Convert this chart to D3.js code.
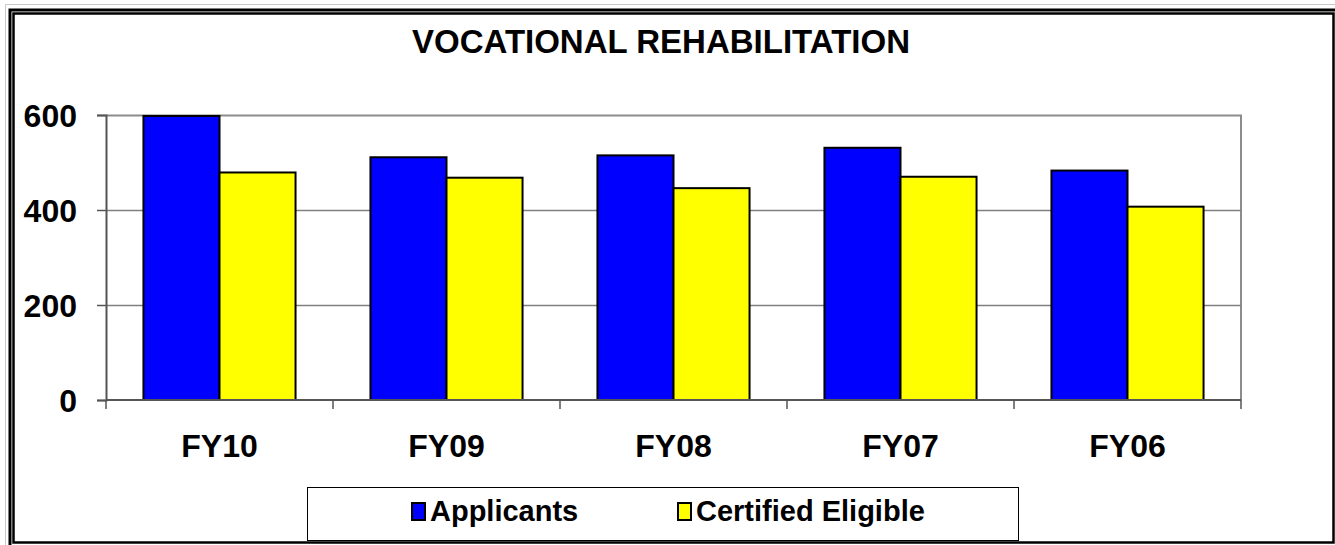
<!DOCTYPE html>
<html>
<head>
<meta charset="utf-8">
<script src="https://cdn.jsdelivr.net/npm/d3@7"></script>
<style>
  body { margin: 0; background: #fff; overflow: hidden; }
  text { font-family: "Liberation Sans", Arial, sans-serif; font-weight: bold; fill: #000; }
</style>
</head>
<body>
<div id="viz1"></div>
<script>
// data
const years = ["FY10", "FY09", "FY08", "FY07", "FY06"];
const applicants = [598, 511, 515, 531, 483];
const certified = [479, 468, 446, 470, 407];
const seriesKeys = ["Applicants", "Certified Eligible"];
const yTicks = [0, 200, 400, 600];

const rows = years.map((y, i) => ({ year: y, Applicants: applicants[i], "Certified Eligible": certified[i] }));

const
    width = 1335, height = 545,
    margin = { top: 115, right: 94, bottom: 145, left: 106 },
    innerWidth = width - margin.left - margin.right,
    innerHeight = height - margin.top - margin.bottom;

// scales
const xScale = d3
    .scaleBand()
    .domain(years)
    .range([margin.left, margin.left + innerWidth])
    .paddingInner(0.33)
    .paddingOuter(0.165);

const xSub = d3
    .scaleBand()
    .domain(seriesKeys)
    .range([0, xScale.bandwidth()]);

const yScale = d3
    .scaleLinear()
    .domain([0, 600])
    .range([margin.top + innerHeight, margin.top]);

const colors = d3
    .scaleOrdinal()
    .domain(seriesKeys)
    .range(["#0000ff", "#ffff00"]);

const svg = d3
    .select("#viz1")
    .append("svg")
    .attr("width", width)
    .attr("height", height)
    .style("display", "block");

// outer frame: double line on left/top, single line right/bottom
svg.append("path")
    .attr("d", "M5.5,545V4.5H1335")
    .attr("fill", "none").attr("stroke", "#c8c8c8").attr("stroke-width", 1);
svg.append("path")
    .attr("d", "M10,545V10H1335")
    .attr("fill", "none").attr("stroke", "#000").attr("stroke-width", 3);
svg.append("path")
    .attr("d", "M13.5,542.5V13.5H1333.5V542.5Z")
    .attr("fill", "none").attr("stroke", "#000").attr("stroke-width", 2.5);

// title
svg.append("text")
    .attr("x", 661)
    .attr("y", 53)
    .attr("text-anchor", "middle")
    .style("font-size", "33px")
    .text("VOCATIONAL REHABILITATION");

const x0 = margin.left, x1 = margin.left + innerWidth;
const yBase = yScale(0), yTop = yScale(600);

// plot border (top + right)
svg.append("path")
    .attr("d", `M${x0},${yTop + 0.5}H${x1}V${yBase}`)
    .attr("fill", "none")
    .attr("stroke", "#8c8c8c")
    .attr("stroke-width", 2);

// gridlines
svg.append("g")
    .selectAll("line")
    .data(yTicks.filter(d => d > 0 && d < 600))
    .enter()
    .append("line")
    .attr("x1", x0)
    .attr("x2", x1)
    .attr("y1", d => Math.round(yScale(d)) + 0.5)
    .attr("y2", d => Math.round(yScale(d)) + 0.5)
    .attr("stroke", "#808080")
    .attr("stroke-width", 1.5);

// bars
const g = svg
    .selectAll("g.year")
    .data(rows)
    .enter()
    .append("g")
    .attr("class", "year")
    .attr("transform", d => `translate(${xScale(d.year)},0)`);

g.selectAll("rect")
    .data(d => seriesKeys.map(k => ({ key: k, value: d[k] })))
    .enter()
    .append("rect")
    .attr("x", d => xSub(d.key))
    .attr("y", d => yScale(d.value))
    .attr("width", xSub.bandwidth())
    .attr("height", d => yBase - yScale(d.value))
    .attr("fill", d => colors(d.key))
    .attr("stroke", "#000")
    .attr("stroke-width", 2);

// y axis (lines only, labels drawn below)
const yAxis = d3.axisLeft(yScale)
    .tickValues(yTicks)
    .tickSize(9)
    .tickFormat("");

const yG = svg.append("g").attr("transform", `translate(${x0},0)`).call(yAxis);
yG.select(".domain").attr("stroke", "#555").attr("stroke-width", 2);
yG.selectAll(".tick line").attr("stroke", "#555").attr("stroke-width", 1.5);

svg.append("g")
    .selectAll("text")
    .data(yTicks)
    .enter()
    .append("text")
    .attr("x", x0 - 29)
    .attr("y", d => yScale(d))
    .attr("dy", "0.36em")
    .attr("text-anchor", "end")
    .style("font-size", "32px")
    .text(d => d);

// x axis: ticks sit on category boundaries
const step = innerWidth / years.length;
svg.append("line")
    .attr("x1", x0).attr("x2", x1)
    .attr("y1", yBase).attr("y2", yBase)
    .attr("stroke", "#555").attr("stroke-width", 2);
svg.append("g")
    .selectAll("line")
    .data(d3.range(years.length + 1))
    .enter()
    .append("line")
    .attr("x1", i => x0 + i * step).attr("x2", i => x0 + i * step)
    .attr("y1", yBase).attr("y2", yBase + 9)
    .attr("stroke", "#555").attr("stroke-width", 1.5);
svg.append("g")
    .selectAll("text")
    .data(years)
    .enter()
    .append("text")
    .attr("x", d => xScale(d) + xScale.bandwidth() / 2)
    .attr("y", yBase + 57)
    .attr("text-anchor", "middle")
    .style("font-size", "32px")
    .text(d => d);

// legend
const legendG = svg.append("g");
legendG.append("rect")
    .attr("x", 307.5).attr("y", 487.5)
    .attr("width", 711).attr("height", 53)
    .attr("fill", "#fff").attr("stroke", "#000").attr("stroke-width", 1);

const legendX = [412, 678];
const legend = legendG
    .selectAll("g.item")
    .data(seriesKeys)
    .enter()
    .append("g")
    .attr("class", "item")
    .attr("transform", (d, i) => `translate(${legendX[i]},503)`);

legend.append("rect")
    .attr("width", 13)
    .attr("height", 17)
    .attr("fill", d => colors(d))
    .attr("stroke", "#000")
    .attr("stroke-width", 2);

legend.append("text")
    .attr("x", 18)
    .attr("y", 18)
    .style("font-size", "29px")
    .text(d => d);
</script>
</body>
</html>
